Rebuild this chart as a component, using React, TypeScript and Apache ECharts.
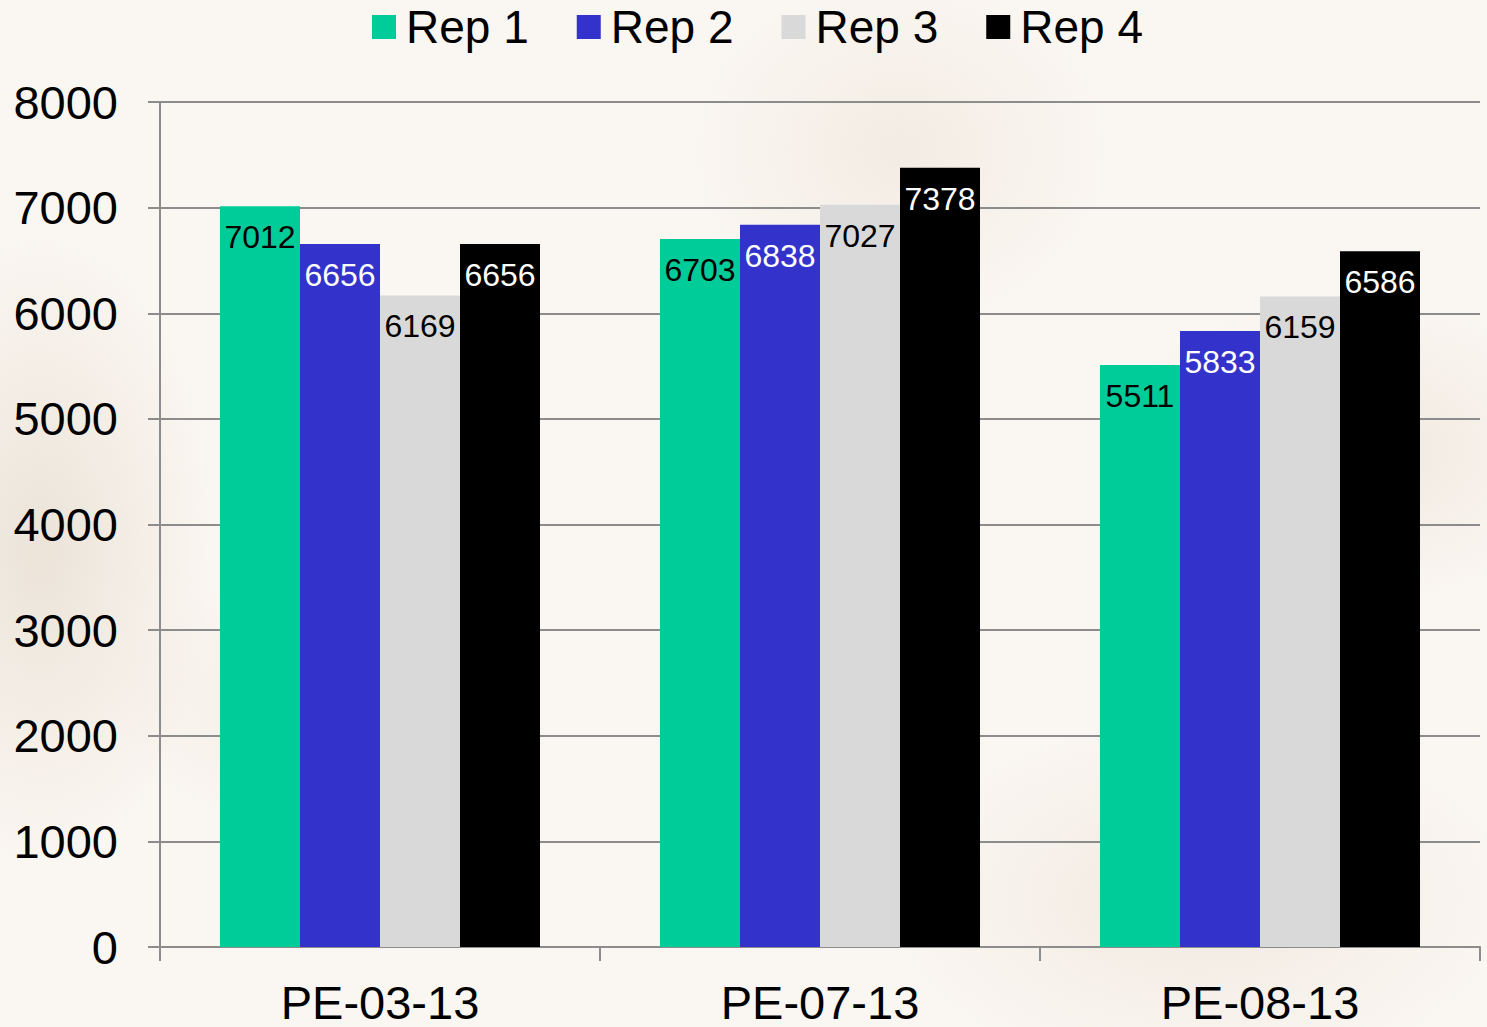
import React, { useEffect, useRef } from "react";
import * as echarts from "echarts";

const categories = ["PE-03-13", "PE-07-13", "PE-08-13"];
const seriesNames = ["Rep 1", "Rep 2", "Rep 3", "Rep 4"];
const rep1 = [7012, 6703, 5511];
const rep2 = [6656, 6838, 5833];
const rep3 = [6169, 7027, 6159];
const rep4 = [6656, 7378, 6586];
const seriesColors = ["#00CC99", "#3333CC", "#D9D9D9", "#000000"];
const labelColors = ["#000000", "#FFFFFF", "#000000", "#FFFFFF"];
const yMin = 0;
const yMax = 8000;
const yInterval = 1000;

const FONT = "'Liberation Sans', Arial, sans-serif";

export default function App() {
  const ref = useRef<HTMLDivElement>(null);
  useEffect(() => {
    document.body.style.margin = "0";
    if (!ref.current) return;
    const chart = echarts.init(ref.current, undefined, { renderer: "svg" });
    const values = [rep1, rep2, rep3, rep4];
    chart.setOption({
      animation: false,
      backgroundColor: "transparent",
      textStyle: { fontFamily: FONT },
      legend: {
        top: -1,
        left: 367,
        itemWidth: 24,
        itemHeight: 24,
        itemGap: 48,
        icon: "rect",
        textStyle: { fontSize: 46, color: "#000", fontFamily: FONT, padding: [0, 0, 0, 5] },
        data: seriesNames,
      },
      grid: { left: 160, right: 7, top: 102, bottom: 80, containLabel: false },
      xAxis: {
        type: "category",
        data: categories,
        axisLine: { show: true, lineStyle: { color: "#8c8c8c", width: 2 } },
        axisTick: { show: true, length: 14, lineStyle: { color: "#8c8c8c", width: 2 } },
        axisLabel: {
          fontSize: 47,
          lineHeight: 40,
          color: "#000",
          margin: 35,
          fontFamily: FONT,
        },
      },
      yAxis: {
        type: "value",
        min: yMin,
        max: yMax,
        interval: yInterval,
        axisLine: { show: true, lineStyle: { color: "#8c8c8c", width: 2 } },
        axisTick: { show: true, length: 12, lineStyle: { color: "#8c8c8c", width: 2 } },
        splitLine: { show: true, lineStyle: { color: "#8c8c8c", width: 2 } },
        axisLabel: {
          fontSize: 47,
          color: "#000",
          margin: 42,
          fontFamily: FONT,
          formatter: (v: number) => String(v),
        },
      },
      series: seriesNames.map((name, i) => ({
        name,
        type: "bar",
        data: values[i],
        barWidth: 80,
        barGap: "0%",
        itemStyle: { color: seriesColors[i] },
        label: {
          show: true,
          position: "insideTop",
          distance: 15,
          fontSize: 32,
          color: labelColors[i],
          fontFamily: FONT,
        },
      })),
    });
    return () => chart.dispose();
  }, []);
  return (
    <div
      style={{
        position: "absolute",
        left: 0,
        top: 0,
        width: 1487,
        height: 1027,
        background:
          "radial-gradient(ellipse 250px 450px at 40px 550px, rgba(215,200,180,0.4), rgba(215,200,180,0) 70%)," +
          "radial-gradient(ellipse 350px 220px at 1350px 450px, rgba(215,200,180,0.3), rgba(215,200,180,0) 70%)," +
          "radial-gradient(ellipse 300px 250px at 900px 150px, rgba(225,212,195,0.3), rgba(225,212,195,0) 70%)," +
          "radial-gradient(ellipse 450px 260px at 1200px 900px, rgba(220,205,188,0.3), rgba(220,205,188,0) 70%)," +
          "radial-gradient(ellipse 280px 180px at 300px 700px, rgba(225,212,195,0.25), rgba(225,212,195,0) 70%)," +
          "#faf6f1",
      }}
    >
      <div ref={ref} style={{ width: 1487, height: 1027 }} />
    </div>
  );
}
